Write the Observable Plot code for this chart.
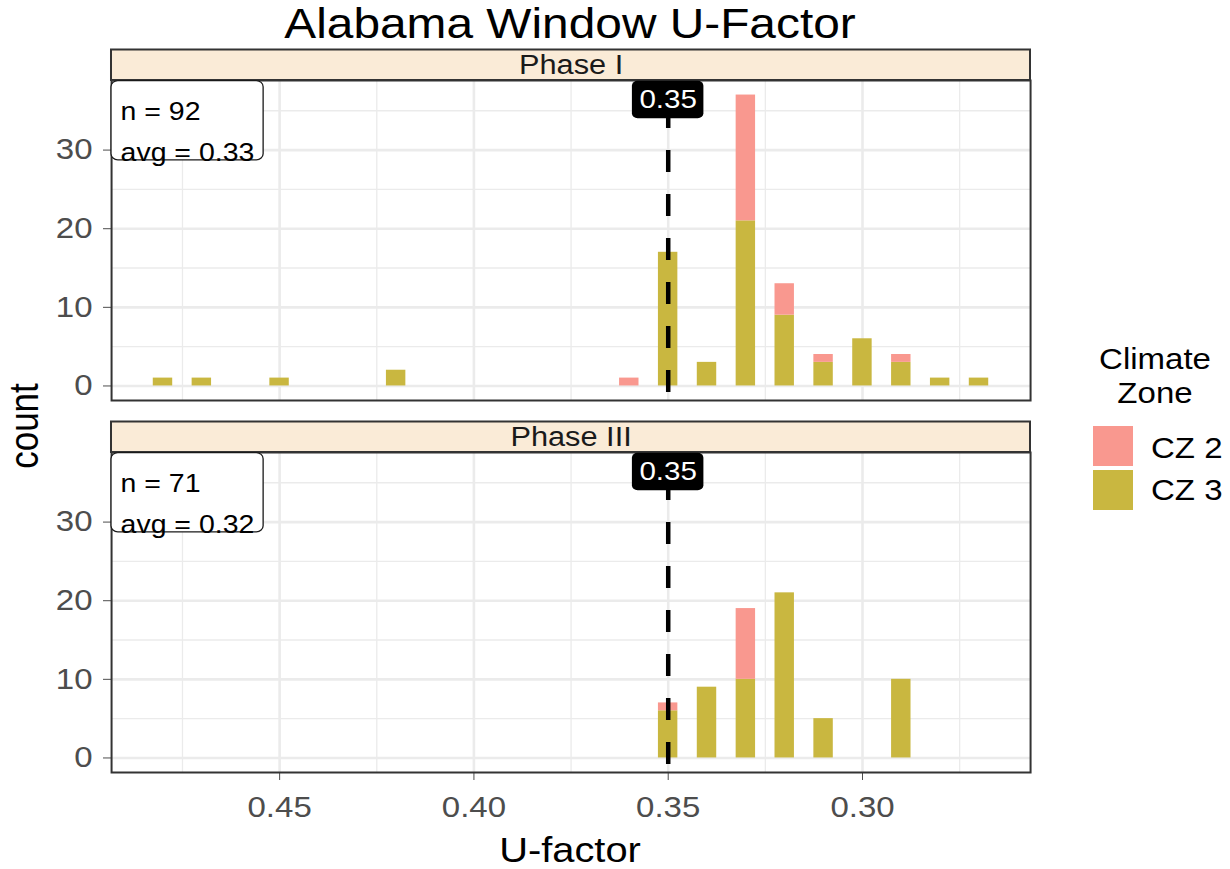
<!DOCTYPE html>
<html>
<head>
<meta charset="utf-8">
<script src="https://cdn.jsdelivr.net/npm/d3@7"></script>
<script src="https://cdn.jsdelivr.net/npm/@observablehq/plot@0.6"></script>
<style>
  html, body { margin: 0; padding: 0; background: white; overflow: hidden; }
  #chart svg { display: block; }
  #chart svg * { vector-effect: non-scaling-stroke; }
</style>
</head>
<body>
<div id="chart"></div>
<script>
// ---- data ----
const phases = ["Phase I", "Phase III"];
const zones = ["CZ 2", "CZ 3"];
const zoneColors = ["#F9988F", "#C9B740"];
const uFactors = [0.48, 0.47, 0.45, 0.42, 0.36, 0.35, 0.34, 0.33, 0.32, 0.31, 0.30, 0.29, 0.28, 0.27];
const phase1CZ2 = [0, 0, 0, 0, 1, 0, 0, 16, 4, 1, 0, 1, 0, 0];
const phase1CZ3 = [1, 1, 1, 2, 0, 17, 3, 21, 9, 3, 6, 3, 1, 1];
const phase3CZ2 = [0, 0, 0, 0, 0, 1, 0, 9, 0, 0, 0, 0, 0, 0];
const phase3CZ3 = [0, 0, 0, 0, 0, 6, 9, 10, 21, 5, 0, 10, 0, 0];
const phaseN = [92, 71];
const phaseAvg = ["0.33", "0.32"];
const refU = [0.35];
const xTicks = [0.45, 0.40, 0.35, 0.30];
const xMinor = [0.475, 0.425, 0.375, 0.325, 0.275];
const yTicks = [0, 10, 20, 30];
const yMinor = [5, 15, 25, 35];
const title = "Alabama Window U-Factor";
const xLabel = "U-factor";
const yLabel = "count";
const legendTitle = ["Climate", "Zone"];

// ---- table built from arrays (CZ 3 first so it sits at the bottom of the stack) ----
const bars = [];
const series = [
  ["Phase I", "CZ 3", phase1CZ3], ["Phase I", "CZ 2", phase1CZ2],
  ["Phase III", "CZ 3", phase3CZ3], ["Phase III", "CZ 2", phase3CZ2]
];
for (const [phase, zone, vals] of series) {
  vals.forEach((c, i) => { if (c > 0) bars.push({phase, zone, u: uFactors[i], count: c}); });
}
const stats = phases.map((p, i) => ({phase: p, n: phaseN[i], avg: phaseAvg[i]}));

const halfW = 0.0025;
const xDomain = [0.49325, 0.25675];
const yDomain = [-1.85, 38.85];
const yTop = yDomain[1];

// the reference is drawn horizontally stretched; draw in a narrower space and stretch
const W = 1080, H = 869, S = 1230 / W;
const px = v => v / S; // screen x -> drawing x

const font = "'Liberation Sans', Arial, Helvetica, sans-serif";

const chart = Plot.plot({
  width: W,
  height: H,
  marginLeft: px(111),
  marginRight: px(200),
  marginTop: 80,
  marginBottom: 97,
  style: {fontFamily: font, fontSize: "29px", color: "#4D4D4D", background: "white"},
  x: {domain: xDomain, ticks: xTicks, tickFormat: d3.format(".2f"), tickSize: 8, tickPadding: 16, label: null},
  y: {domain: yDomain, ticks: yTicks, tickSize: px(8), tickPadding: px(11), label: null},
  fy: {domain: phases, axis: null, label: null, paddingInner: 0.1398, paddingOuter: 0},
  color: {domain: zones, range: zoneColors},
  marks: [
    Plot.ruleX(xMinor, {stroke: "#EBEBEB", strokeWidth: 1.3}),
    Plot.ruleY(yMinor, {stroke: "#EBEBEB", strokeWidth: 1.3}),
    Plot.ruleX(xTicks, {stroke: "#EBEBEB", strokeWidth: 2.6}),
    Plot.ruleY(yTicks, {stroke: "#EBEBEB", strokeWidth: 2.6}),
    Plot.rectY(bars, {
      x: "u",
      x1: d => d.u + halfW,
      x2: d => d.u - halfW,
      y: "count",
      fill: "zone",
      fy: "phase",
      order: ["CZ 3", "CZ 2"]
    }),
    Plot.ruleX(refU, {stroke: "black", strokeWidth: 4.5, strokeDasharray: "22,22", strokeDashoffset: 18}),
    Plot.frame({stroke: "#333333", strokeWidth: 2}),
    // strips
    Plot.rect(phases, {x1: xDomain[0], x2: xDomain[1], y1: yTop, y2: yTop + 3.88, fy: d => d, fill: "#FAEBD7", stroke: "#333333", strokeWidth: 2}),
    Plot.text(phases, {x: (xDomain[0] + xDomain[1]) / 2, y: yTop + 1.94, fy: d => d, text: d => d, fill: "#1A1A1A", fontSize: 27}),
    // reference label
    Plot.rect(refU, {x1: d => d + 0.0092, x2: d => d - 0.0092, y1: yTop - 0.1, y2: yTop - 4.85, fill: "black", rx: 5}),
    Plot.text(refU, {x: d => d, frameAnchor: "top", lineAnchor: "middle", dy: 19, text: d => d.toFixed(2), fill: "white", fontSize: 26}),
    // n / avg labels
    Plot.rect(stats, {x1: xDomain[0], x2: 0.4541, y1: yTop - 0.08, y2: yTop - 10.15, fy: "phase", fill: "white", stroke: "#1A1A1A", strokeWidth: 1.3, rx: 6}),
    Plot.text(stats, {frameAnchor: "top-left", dx: px(9), dy: 10, lineAnchor: "top", textAnchor: "start", lineHeight: 1.65,
      fy: "phase", text: d => `n = ${d.n}\navg = ${d.avg}`, fill: "black", fontSize: 25})
  ]
});

chart.setAttribute("preserveAspectRatio", "none");
chart.setAttribute("width", 1230);
chart.setAttribute("height", H);
chart.style.width = "1230px";
chart.style.height = H + "px";
chart.style.maxWidth = "none";
document.getElementById("chart").appendChild(chart);

// ---- titles and legend ----
const svg = d3.select(chart);
const g = svg.append("g").attr("font-family", font);
g.append("text").attr("x", px(570)).attr("y", 38).attr("text-anchor", "middle")
  .attr("font-size", 42).attr("fill", "black").text(title);
g.append("text").attr("x", px(570)).attr("y", 862).attr("text-anchor", "middle")
  .attr("font-size", 35).attr("fill", "black").text(xLabel);
g.append("text").attr("transform", `translate(${px(38)},426) rotate(-90)`).attr("text-anchor", "middle")
  .attr("font-size", 35).attr("fill", "black").text(yLabel);
legendTitle.forEach((t, i) => {
  g.append("text").attr("x", px(1155)).attr("y", 369 + i * 34).attr("text-anchor", "middle")
    .attr("font-size", 29).attr("fill", "black").text(t);
});
zones.forEach((z, i) => {
  g.append("rect").attr("x", px(1093)).attr("y", 426 + i * 44).attr("width", px(40)).attr("height", 40)
    .attr("fill", zoneColors[i]);
  g.append("text").attr("x", px(1151)).attr("y", 458 + i * 42).attr("text-anchor", "start")
    .attr("font-size", 29).attr("fill", "black").text(z);
});
</script>
</body>
</html>
